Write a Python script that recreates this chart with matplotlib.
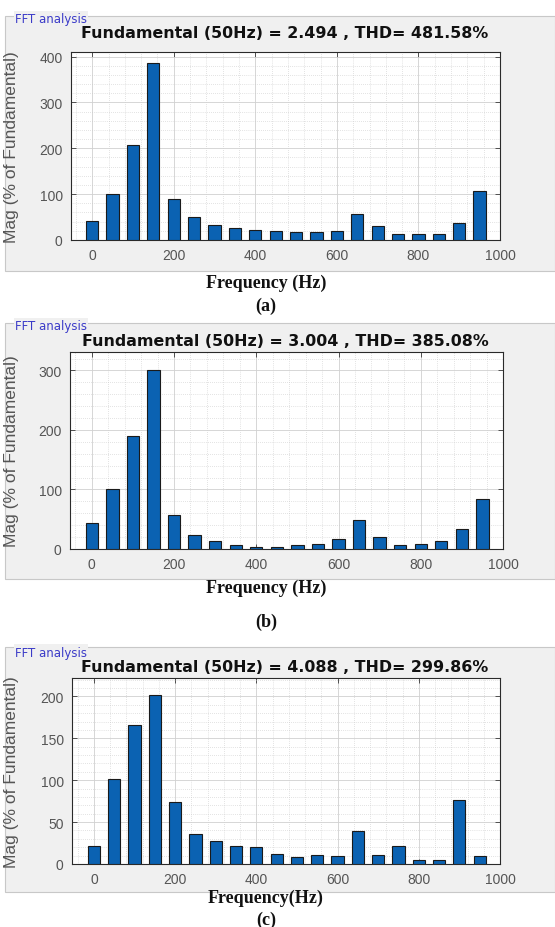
import matplotlib
matplotlib.use("Agg")
import matplotlib.pyplot as plt
from matplotlib.patches import Rectangle
from matplotlib.ticker import MultipleLocator

freqs = [0, 50, 100, 150, 200, 250, 300, 350, 400, 450, 500, 550, 600, 650, 700, 750, 800, 850, 900, 950]
mag_a = [42, 101, 208, 385, 90, 51, 33, 26, 22, 19, 17, 17, 20, 56, 30, 14, 12, 14, 37, 107]
mag_b = [44, 101, 190, 301, 57, 24, 13, 6, 3, 3, 6, 8, 16, 49, 21, 6, 8, 13, 34, 84]
mag_c = [21, 102, 166, 202, 74, 36, 27, 21, 20, 12, 8, 11, 10, 39, 11, 21, 5, 5, 76, 10]

titles = ["Fundamental (50Hz) = 2.494 , THD= 481.58%",
          "Fundamental (50Hz) = 3.004 , THD= 385.08%",
          "Fundamental (50Hz) = 4.088 , THD= 299.86%"]
xlabels = ["Frequency (Hz)", "Frequency (Hz)", "Frequency(Hz)"]
captions = ["(a)", "(b)", "(c)"]
yticks_list = [[0, 100, 200, 300, 400], [0, 100, 200, 300], [0, 50, 100, 150, 200]]
ylims = [410, 331, 222]
yminor = [20, 20, 10]
xticks = [0, 200, 400, 600, 800, 1000]

W, H = 555, 928
fig = plt.figure(figsize=(W / 100, H / 100), dpi=100)
fig.patch.set_facecolor("white")

def fx(px):
    return px / W

def fy(py):
    return 1 - py / H

# layout in pixels (left, right, top, bottom)
axes_px = [(71, 500, 53, 241), (70, 503, 353, 550), (72, 500, 679, 865)]
panel_px = [(5, 555, 17, 272), (5, 555, 324, 580), (5, 555, 648, 893)]
fft_y = [20, 327, 653]
title_y = [33, 342, 668]
xlabel_y = [283, 588, 898]
cap_y = [306, 622, 920]
xlims_left = [-52, -53, -54]

data = [mag_a, mag_b, mag_c]

for i in range(3):
    pl, pr, pt, pb = panel_px[i]
    fig.patches.append(Rectangle((fx(pl), fy(pb)), fx(pr - pl), (pb - pt) / H,
                                 transform=fig.transFigure, facecolor="#f0f0f0",
                                 edgecolor="#c8c8c8", linewidth=0.8, zorder=-10))
    fig.text(fx(15), fy(fft_y[i]), "FFT analysis", fontsize=8.5, color="#3b3bc8",
             family=["DejaVu Sans"], va="center", ha="left",
             bbox=dict(facecolor="#f0f0f0", edgecolor="none", pad=1.0))

    l, r, t, b = axes_px[i]
    ax = fig.add_axes([fx(l), fy(b), fx(r - l), (b - t) / H])
    ax.set_facecolor("white")
    ax.bar(freqs, data[i], width=30, color="#0b62b2", edgecolor="#1a1a1a",
           linewidth=0.8, zorder=3)
    ax.set_xlim(xlims_left[i], 1000)
    ax.set_ylim(0, ylims[i])
    ax.set_xticks(xticks)
    ax.set_yticks(yticks_list[i])
    ax.xaxis.set_minor_locator(MultipleLocator(40))
    ax.yaxis.set_minor_locator(MultipleLocator(yminor[i]))
    ax.grid(which="major", color="#d0d0d0", linewidth=0.6, linestyle="-", zorder=0)
    ax.grid(which="minor", color="#c8c8c8", linewidth=0.5, linestyle=(0, (1, 2)), zorder=0)
    ax.set_axisbelow(True)
    ax.tick_params(which="both", direction="in", top=True, right=True,
                   colors="#3a3a3a", labelcolor="#555555")
    ax.tick_params(which="major", length=3.5, width=0.6, labelsize=10, pad=6)
    ax.tick_params(which="minor", length=0, width=0.4)
    for lab in ax.get_xticklabels() + ax.get_yticklabels():
        lab.set_family(["Liberation Sans", "DejaVu Sans"])
    for s in ax.spines.values():
        s.set_color("#2a2a2a")
        s.set_linewidth(0.8)
    ax.set_ylabel("Mag (% of Fundamental)", fontsize=12.5, color="#555555",
                  family=["Liberation Sans", "DejaVu Sans"], labelpad=3)
    ax.yaxis.set_label_coords(-(l - 19) / (r - l), 0.5)

    fig.text(fx(285), fy(title_y[i]), titles[i], fontsize=11.4, fontweight="bold",
             color="#111111", family=["DejaVu Sans"],
             ha="center", va="center")
    fig.text(fx(266), fy(xlabel_y[i]), xlabels[i], fontsize=13, fontweight="bold",
             color="#111111", family=["Liberation Serif", "DejaVu Serif"],
             ha="center", va="center")
    fig.text(fx(266), fy(cap_y[i]), captions[i], fontsize=13, fontweight="bold",
             color="#111111", family=["Liberation Serif", "DejaVu Serif"],
             ha="center", va="center")

fig.savefig("out.png", dpi=100)
